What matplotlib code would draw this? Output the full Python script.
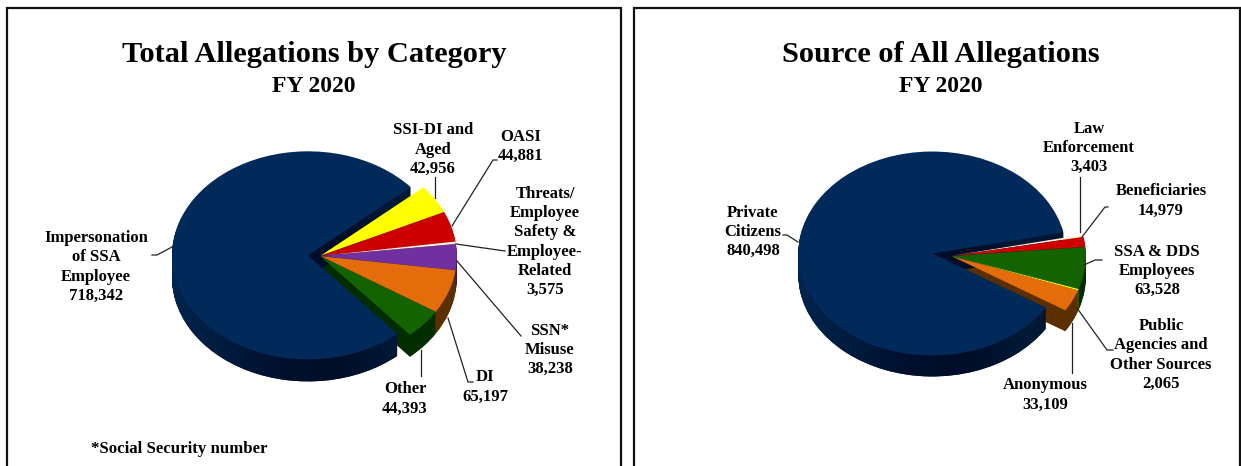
import numpy as np
import matplotlib
matplotlib.use("Agg")
import matplotlib.pyplot as plt
from matplotlib.colors import LinearSegmentedColormap
from matplotlib.path import Path

# ---- data ----
left_labels = ["SSI-DI and\nAged\n42,956", "OASI\n44,881",
               "Threats/\nEmployee\nSafety &\nEmployee-\nRelated\n3,575",
               "SSN*\nMisuse\n38,238", "DI\n65,197", "Other\n44,393",
               "Impersonation\nof SSA\nEmployee\n718,342"]
left_values = [42956, 44881, 3575, 38238, 65197, 44393, 718342]
left_colors = ["#ffff00", "#cc0000", "#fff0d8", "#7030a0", "#e46c0a", "#136400", "#012a5b"]
left_sides = ["#808000", "#660000", "#80786c", "#381850", "#5c2f00", "#032d00", "#001c40"]

right_labels = ["Law\nEnforcement\n3,403", "Beneficiaries\n14,979",
                "SSA & DDS\nEmployees\n63,528",
                "Public\nAgencies and\nOther Sources\n2,065",
                "Anonymous\n33,109", "Private\nCitizens\n840,498"]
right_values = [3403, 14979, 63528, 2065, 33109, 840498]
right_colors = ["#fff0d8", "#cc0000", "#136400", "#ffff00", "#e46c0a", "#012a5b"]
right_sides = ["#80786c", "#660000", "#032d00", "#808000", "#5c2f00", "#001c40"]

W, H = 1241, 466
plt.rcParams["font.family"] = ["Liberation Serif", "DejaVu Serif"]
fig = plt.figure(figsize=(W / 100, H / 100), dpi=100, facecolor="white")

cmap = LinearSegmentedColormap.from_list(
    "side", ["#03244d", "#001a3c", "#000f2c", "#000d28", "#001a38", "#001026"])


def pie3d(ax, values, colors, sides, cx, cy, r, start, sy, depth, big_explode, gap):
    """Exploded pie with a downward extruded side, on y-compressed data axes.
    pie() takes explode offsets in data units here because radius is in pixels."""
    explode = [gap] * (len(values) - 1) + [big_explode]
    centre = (cx, (H - cy) / sy)
    big_paths = []
    for d in np.arange(depth, 0, -1.0):
        wedges, _ = ax.pie(values, explode=explode, colors=sides, radius=r,
                           center=(centre[0], centre[1] - d / sy),
                           startangle=start, counterclock=False,
                           wedgeprops=dict(linewidth=0))
        for w in wedges[:-1]:
            w.set_zorder(1)
        wedges[-1].set_zorder(2)
        big_paths.append(wedges[-1].get_path())
    # shaded side of the largest slice
    clip = Path.make_compound_path(*big_paths)
    grad = np.linspace(0, 1, 256)[None, :]
    x0 = cx - r - big_explode
    im = ax.imshow(grad, cmap=cmap, aspect="auto", zorder=2.5,
                   extent=(x0, x0 + 2 * r + big_explode, 0, H / sy))
    im.set_clip_path(clip, ax.transData)
    wedges, _ = ax.pie(values, explode=explode, colors=colors, radius=r,
                       center=centre, startangle=start, counterclock=False,
                       wedgeprops=dict(linewidth=0))
    for w in wedges[:-1]:
        w.set_zorder(4)
    wedges[-1].set_zorder(3)
    ax.set_aspect("auto")
    ax.set_xlim(0, W)
    ax.set_ylim(0, H / sy)
    ax.axis("off")


ax1 = fig.add_axes([0, 0, 1, 1])
ax1.patch.set_alpha(0)
pie3d(ax1, left_values, left_colors, left_sides, 320, 256, 136, 41, 0.765, 22, 12, 0.8)
ax2 = fig.add_axes([0, 0, 1, 1])
ax2.patch.set_alpha(0)
pie3d(ax2, right_values, right_colors, right_sides, 951, 256, 134, 12, 0.761, 21, 19, 0.8)

# overlay in pixel coordinates
ov = fig.add_axes([0, 0, 1, 1])
ov.set_xlim(0, W)
ov.set_ylim(H, 0)
ov.axis("off")
ov.patch.set_alpha(0)

# panel frames
for x0, x1 in [(7, 621), (634, 1240)]:
    ov.plot([x0, x0, x1, x1], [H, 8, 8, H], color="#111111", lw=1.6, solid_joinstyle="miter")

# titles
for xc, title in [(314, "Total Allegations by Category"), (941, "Source of All Allegations")]:
    ov.text(xc, 55, title, ha="center", va="center", fontsize=21.9, fontweight="bold")
    ov.text(xc, 87, "FY 2020", ha="center", va="center", fontsize=17, fontweight="bold")

# slice labels
left_pos = [(433, 149.5), (521, 146.5), (545, 242), (550, 350), (485, 387), (405, 399), (96, 267)]
right_pos = [(1089, 148), (1161, 201), (1157, 271), (1161, 355), (1045, 395), (753, 232)]
for labels, pos in [(left_labels, left_pos), (right_labels, right_pos)]:
    for lab, (x, y) in zip(labels, pos):
        ov.text(x, y, lab, ha="center", va="center", fontsize=12, fontweight="bold",
                linespacing=1.26)

ov.text(91, 449, "*Social Security number", ha="left", va="center",
        fontsize=12.1, fontweight="bold")

# leader lines
leaders = [
    ([152, 157, 172], [255, 255, 247]),
    ([435, 435], [177, 198]),
    ([497, 493, 452], [160, 160, 226]),
    ([456, 505], [244, 251]),
    ([457, 521], [261, 336]),
    ([448, 468, 473], [318, 382, 382]),
    ([421, 421], [350, 376]),
    ([783, 787, 798], [235, 235, 242]),
    ([1080, 1080], [177, 232]),
    ([1108, 1105, 1082], [207, 207, 237]),
    ([1102, 1095, 1084], [260, 260, 265]),
    ([1113, 1107, 1077], [350, 350, 308]),
    ([1072, 1072], [373, 323]),
]
for xs, ys in leaders:
    ov.plot(xs, ys, color="#222222", lw=0.9)

fig.savefig("out.png", dpi=100)
